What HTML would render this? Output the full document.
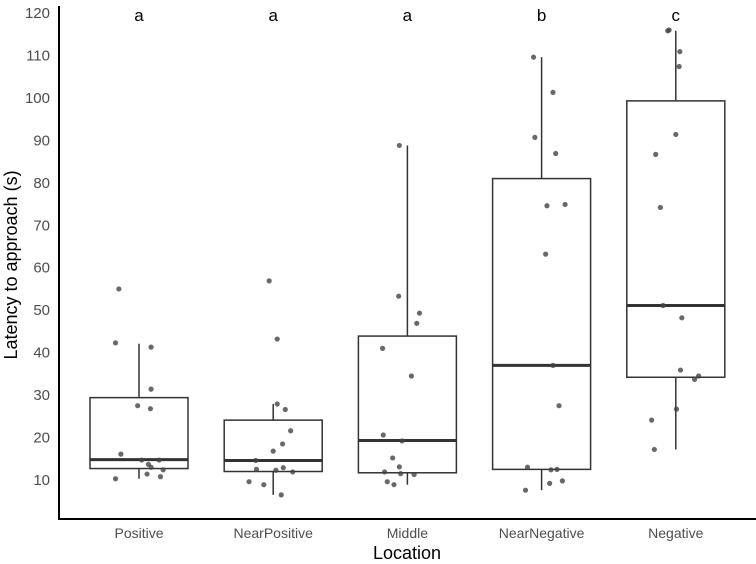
<!DOCTYPE html>
<html><head><meta charset="utf-8"><style>
body{margin:0;background:#fff}
svg{display:block;font-family:"Liberation Sans",sans-serif}
</style></head><body>
<svg id="c" width="756" height="564"></svg>
<script>
const categories=["Positive","NearPositive","Middle","NearNegative","Negative"];
const letters=["a","a","a","b","c"];
const q1=[12.7,12.0,11.7,12.5,34.2];
const medians=[14.8,14.6,19.3,37.0,51.1];
const q3=[29.4,24.1,43.9,81.0,99.3];
const whiskLo=[10.3,6.5,8.9,7.6,17.2];
const whiskHi=[42.1,27.9,88.8,109.6,115.8];
const pointsPositive=[55.0,42.3,41.3,31.4,27.5,26.8,16.1,14.7,14.7,13.7,13.0,12.4,11.4,10.3,10.8];
const jitterPositive=[-0.15,-0.175,0.09,0.09,-0.01,0.085,-0.135,0.02,0.15,0.07,0.09,0.18,0.06,-0.175,0.16];
const pointsNearPositive=[56.9,43.2,27.9,26.6,21.6,18.5,16.8,14.6,12.5,12.3,12.9,11.9,9.6,8.9,6.5];
const jitterNearPositive=[-0.03,0.03,0.03,0.09,0.13,0.07,0,-0.13,-0.125,0.02,0.075,0.145,-0.18,-0.07,0.06];
const pointsMiddle=[88.8,53.3,49.3,46.9,41.0,34.5,20.6,19.2,15.2,13.1,11.9,11.5,11.3,9.6,8.9];
const jitterMiddle=[-0.06,-0.065,0.09,0.07,-0.185,0.03,-0.18,-0.04,-0.11,-0.06,-0.17,-0.05,0.05,-0.15,-0.1];
const pointsNearNegative=[109.6,101.3,90.7,86.9,74.6,74.9,63.2,37.0,27.5,13.0,12.4,12.5,9.8,9.2,7.6];
const jitterNearNegative=[-0.06,0.085,-0.05,0.105,0.04,0.175,0.03,0.085,0.13,-0.105,0.07,0.115,0.155,0.06,-0.12];
const pointsNegative=[115.8,116.0,110.9,107.4,91.4,86.7,74.2,51.1,48.2,35.9,34.5,33.7,26.7,24.1,17.2];
const jitterNegative=[-0.06,-0.05,0.03,0.025,0,-0.15,-0.115,-0.095,0.045,0.035,0.17,0.14,0.005,-0.18,-0.16];
const yTicks=[10,20,30,40,50,60,70,80,90,100,110,120];

const points=[pointsPositive,pointsNearPositive,pointsMiddle,pointsNearNegative,pointsNegative];
const jitter=[jitterPositive,jitterNearPositive,jitterMiddle,jitterNearNegative,jitterNegative];
const NS="http://www.w3.org/2000/svg";
const svg=document.getElementById('c');
const X0=139,STEP=134.2,HW=49;
const y=v=>480-(v-10)*(467/110);
const x=i=>X0+i*STEP;
function mk(t,a,p){const e=document.createElementNS(NS,t);for(const k in a)e.setAttribute(k,a[k]);(p||svg).appendChild(e);return e;}

yTicks.forEach(t=>{
  const e=mk('text',{x:50,y:y(t)+5,'text-anchor':'end','font-size':15,fill:'#4d4d4d'});
  e.textContent=t;
  
  
});
categories.forEach((c,i)=>{
  const g=mk('g',{});
  
  
  const cx=x(i);
  mk('line',{x1:cx,x2:cx,y1:y(q3[i]),y2:y(whiskHi[i]),stroke:'#333','stroke-width':1.5},g);
  mk('line',{x1:cx,x2:cx,y1:y(q1[i]),y2:y(whiskLo[i]),stroke:'#333','stroke-width':1.5},g);
  mk('rect',{x:cx-HW,y:y(q3[i]),width:2*HW,height:y(q1[i])-y(q3[i]),fill:'#fff',stroke:'#333','stroke-width':1.5},g);
  mk('line',{x1:cx-HW,x2:cx+HW,y1:y(medians[i]),y2:y(medians[i]),stroke:'#333','stroke-width':3},g);
  points[i].forEach((v,j)=>{
    const d=mk('circle',{cx:cx+jitter[i][j]*STEP,cy:y(v),r:2.6,fill:'#444','fill-opacity':0.8},g);
    
    
  });
  const l=mk('text',{x:cx,y:21,'text-anchor':'middle','font-size':17,fill:'#000'});
  l.textContent=letters[i];
  
  
  const t=mk('text',{x:cx,y:538,'text-anchor':'middle','font-size':14,fill:'#4d4d4d'});
  t.textContent=c;
  
  
});
const ax=mk('path',{d:'M59 6 V519 H756',fill:'none',stroke:'#000','stroke-width':2});


const xt=mk('text',{x:407,y:559,'text-anchor':'middle','font-size':18,fill:'#000'});
xt.textContent='Location';


const yt=mk('text',{x:0,y:0,'text-anchor':'middle','font-size':18,fill:'#000',transform:'translate(17,265) rotate(-90)'});
yt.textContent='Latency to approach (s)';


</script>
</body></html>
